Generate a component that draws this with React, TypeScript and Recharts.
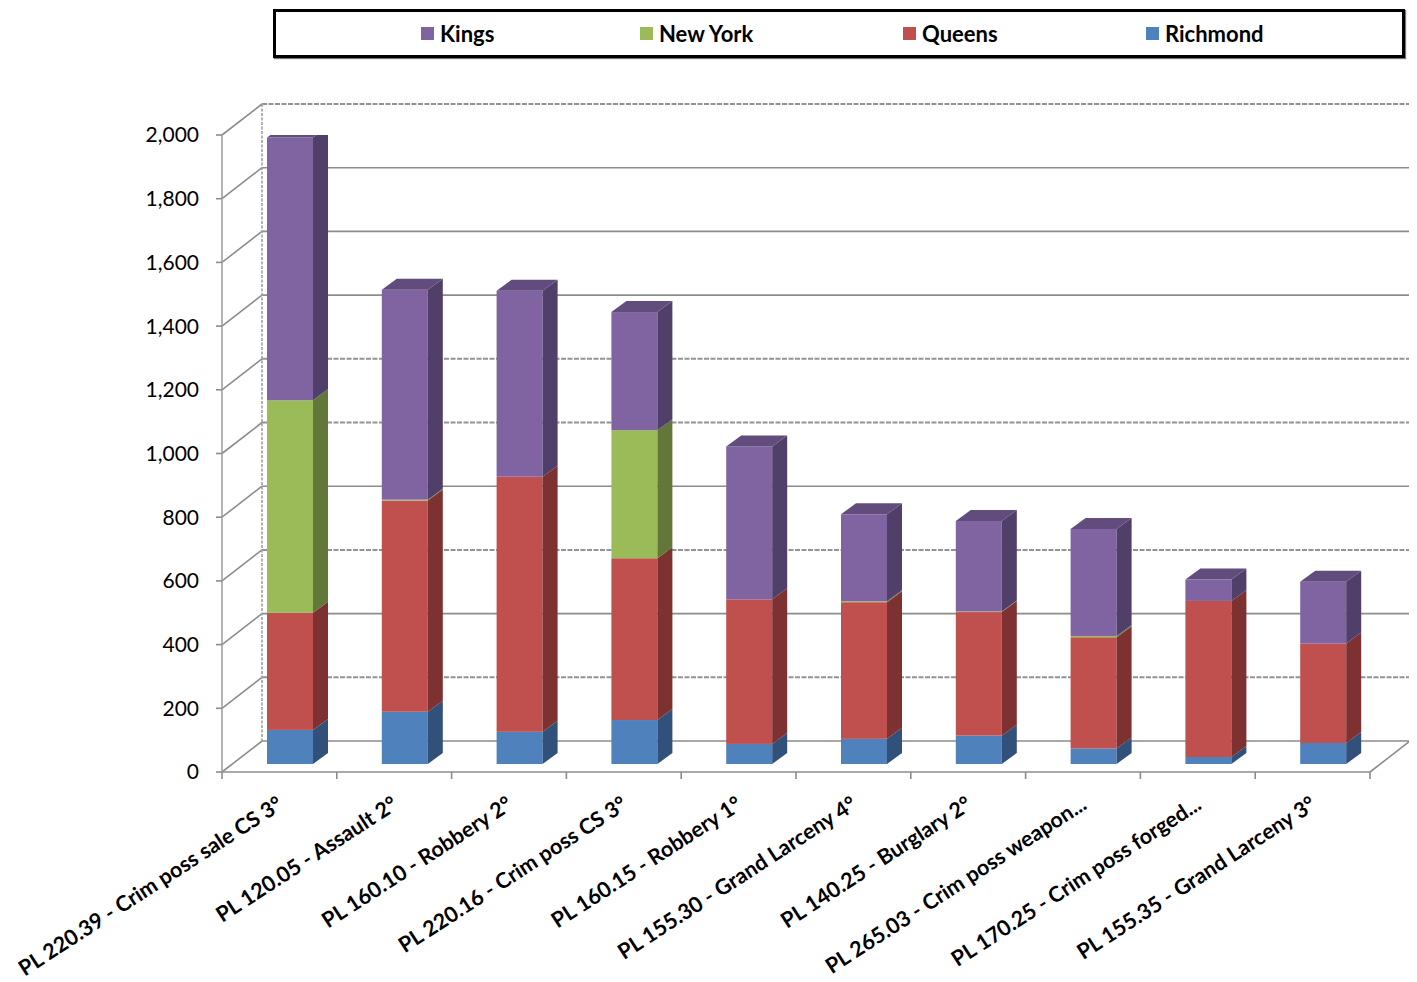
import React from 'react';
import { BarChart, Bar, XAxis, YAxis, CartesianGrid } from 'recharts';

// ---------- data ----------
const categories = [
  'PL 220.39 - Crim poss sale CS 3°',
  'PL 120.05 - Assault 2°',
  'PL 160.10 - Robbery 2°',
  'PL 220.16 - Crim poss CS 3°',
  'PL 160.15 - Robbery 1°',
  'PL 155.30 - Grand Larceny 4°',
  'PL 140.25 - Burglary 2°',
  'PL 265.03 - Crim poss weapon...',
  'PL 170.25 - Crim poss forged...',
  'PL 155.35 - Grand Larceny 3°',
];
const richmond = [107, 164, 101, 138, 63, 79, 89, 49, 22, 66];
const queens = [368, 663, 801, 508, 454, 429, 388, 349, 490, 312];
const newYork = [667, 3, 0, 402, 0, 3, 2, 4, 0, 0];
const kings = [825, 659, 584, 371, 480, 273, 284, 336, 67, 194];
const yTicks = [0, 200, 400, 600, 800, 1000, 1200, 1400, 1600, 1800, 2000];
const dashedTicks = [200, 600, 1000, 1200, 2000];

// stacking order bottom -> top
const series = [
  { key: 'Richmond', front: '#4F81BD', side: '#31507A', top: '#3C6594' },
  { key: 'Queens', front: '#C0504D', side: '#7E3131', top: '#9A3E3B' },
  { key: 'New York', front: '#9BBB59', side: '#64773A', top: '#7C9647' },
  { key: 'Kings', front: '#8064A2', side: '#503F68', top: '#614C7D' },
];
const legendOrder = ['Kings', 'New York', 'Queens', 'Richmond'];

const data = categories.map((name, i) => ({
  name,
  Richmond: richmond[i],
  Queens: queens[i],
  'New York': newYork[i],
  Kings: kings[i],
}));

// ---------- layout ----------
const W = 1401;
const H = 974;
const Y_AXIS_W = 214;
const M_TOP = 127;
const M_RIGHT = 39;
const X_AXIS_H = 210;
const PLOT_BOTTOM = H - X_AXIS_H;
const PLOT_H = PLOT_BOTTOM - M_TOP;
const PLOT_W = W - M_RIGHT - Y_AXIS_W;
const BAND = PLOT_W / categories.length;
const Y_MAX = 2000;

const WALL_DX = 40;
const WALL_DY = -31;
const BAR_DX = 11;
const BAR_DY = -8;
const SIDE_DX = 15;
const SIDE_DY = -11;
const GRID = '#8c8c8c';
const FONT = 'Lato, "Open Sans", sans-serif';

const renderHLine = (p: any) => {
  const { x1, y1, x2 } = p;
  const val = Math.round((((PLOT_BOTTOM - y1) / PLOT_H) * Y_MAX) / 200) * 200;
  const dashed = dashedTicks.includes(val);
  const bx1 = x1 + WALL_DX;
  const bx2 = x2 + WALL_DX;
  const by = y1 + WALL_DY;
  return (
    <g key={`hl-${p.index}`}>
      <line x1={x1} y1={y1} x2={bx1} y2={by} stroke={GRID} strokeWidth={1.6} />
      <line
        x1={bx1}
        y1={by}
        x2={bx2}
        y2={by}
        stroke={dashed ? '#939393' : GRID}
        strokeWidth={dashed ? 2 : 1.6}
        strokeDasharray={dashed ? '5 1.5' : undefined}
      />
      {val === 0 && <line x1={x2} y1={y1} x2={bx2} y2={by} stroke={GRID} strokeWidth={1.6} />}
      {val === Y_MAX && (
        <line
          x1={bx1}
          y1={by}
          x2={bx1}
          y2={PLOT_BOTTOM + WALL_DY}
          stroke="#a0a0a0"
          strokeWidth={1.6}
          strokeDasharray="3 1.5"
        />
      )}
    </g>
  );
};

const make3DShape = (s: { front: string; side: string; top: string }, drawTop: boolean) => (props: any) => {
  const { x, y, width, height } = props;
  if (x == null || y == null || !width) return <g />;
  const h = Math.max(0, height || 0);
  const fx = x + BAR_DX;
  const fy = y + BAR_DY;
  const w = width;
  const side = `${fx + w},${fy + h} ${fx + w + SIDE_DX},${fy + h + SIDE_DY} ${fx + w + SIDE_DX},${fy + SIDE_DY} ${fx + w},${fy}`;
  const top = `${fx},${fy} ${fx + w},${fy} ${fx + w + SIDE_DX},${fy + SIDE_DY} ${fx + SIDE_DX},${fy + SIDE_DY}`;
  return (
    <g>
      {h > 0 && <rect x={fx} y={fy} width={w} height={h} fill={s.front} />}
      {h > 0 && <polygon points={side} fill={s.side} />}
      {drawTop && <polygon points={top} fill={s.top} />}
    </g>
  );
};

const renderXTick = (props: any) => {
  const { x, y, payload, index } = props;
  const left = x - BAND / 2;
  const right = x + BAND / 2;
  return (
    <g>
      <line x1={left} y1={y} x2={left} y2={y + 7} stroke={GRID} strokeWidth={1.6} />
      {index === categories.length - 1 && (
        <line x1={right} y1={y} x2={right} y2={y + 7} stroke={GRID} strokeWidth={1.6} />
      )}
      <g transform={`translate(${x + 5},${y + 36})`}>
        <text
          transform="rotate(-33)"
          textAnchor="end"
          fontFamily={FONT}
          fontWeight="bold"
          fontSize={21.5}
          fill="#000"
        >
          {payload.value}
        </text>
      </g>
    </g>
  );
};

const Legend3D = () => (
  <div
    style={{
      position: 'absolute',
      left: 265,
      top: 1,
      width: 1132,
      height: 49,
      boxSizing: 'border-box',
      border: '3px solid #000',
      boxShadow: '1px 1px 1px #777',
      background: '#fff',
      fontFamily: FONT,
    }}
  >
    {legendOrder.map((k, i) => {
      const s = series.find((q) => q.key === k)!;
      const lefts = [145, 364, 627, 870];
      return (
        <div
          key={k}
          style={{
            position: 'absolute',
            left: lefts[i],
            top: 0,
            height: 43,
            display: 'flex',
            alignItems: 'center',
          }}
        >
          <span style={{ display: 'inline-block', width: 13, height: 13, background: s.front, marginRight: 6 }} />
          <span style={{ fontSize: 22, fontWeight: 700, color: '#000', lineHeight: '43px' }}>{k}</span>
        </div>
      );
    })}
  </div>
);

export default function App() {
  return (
    <div style={{ position: 'relative', width: W, height: H, background: '#fff' }}>
      <BarChart
        width={W}
        height={H}
        data={data}
        margin={{ top: M_TOP, right: M_RIGHT, left: 0, bottom: 0 }}
        style={{ overflow: 'visible' }}
      >
        <CartesianGrid horizontal={renderHLine as any} vertical={false} />
        <XAxis
          dataKey="name"
          interval={0}
          height={X_AXIS_H}
          axisLine={{ stroke: GRID, strokeWidth: 1.6 }}
          tickLine={false}
          tickSize={0}
          tickMargin={0}
          tick={renderXTick}
        />
        <YAxis
          type="number"
          domain={[0, Y_MAX]}
          ticks={yTicks}
          interval={0}
          width={Y_AXIS_W}
          allowDataOverflow
          tickFormatter={(v: number) => v.toLocaleString('en-US')}
          axisLine={{ stroke: '#a0a0a0', strokeWidth: 1.6 }}
          tickLine={{ stroke: GRID, strokeWidth: 1.6 }}
          tickSize={6}
          tickMargin={17}
          tick={{ fill: '#000', fontSize: 21, fontFamily: FONT }}
        />
        {series.map((s, i) => (
          <Bar
            key={s.key}
            dataKey={s.key}
            stackId="a"
            barSize={46}
            fill={s.front}
            isAnimationActive={false}
            shape={make3DShape(s, i === series.length - 1)}
          />
        ))}
      </BarChart>
      <Legend3D />
    </div>
  );
}
